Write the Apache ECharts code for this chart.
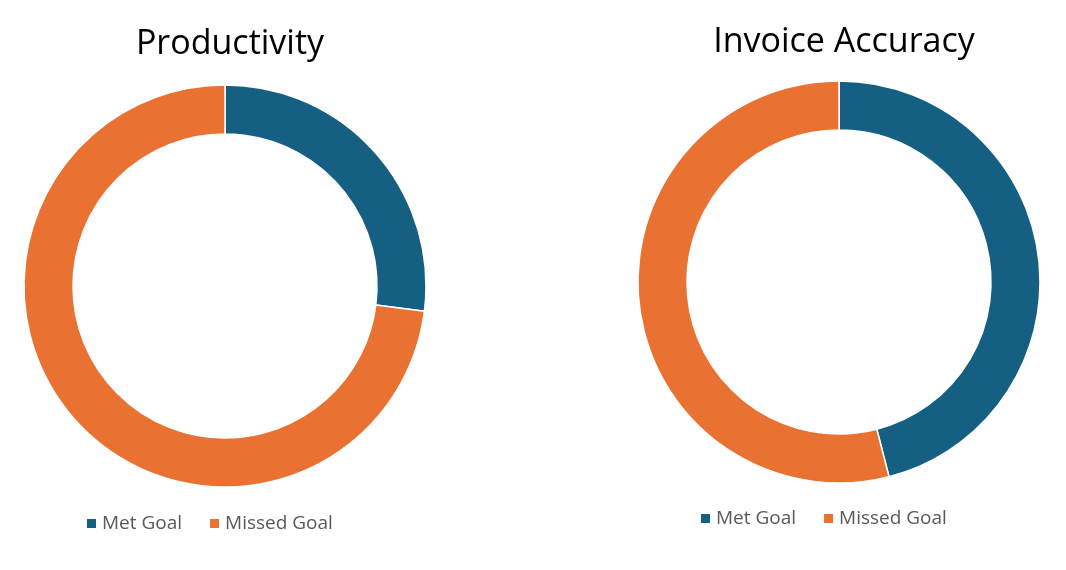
<!DOCTYPE html>
<html><head><meta charset="utf-8">
<script src="https://cdn.jsdelivr.net/npm/echarts@6/dist/echarts.min.js"></script>
<style>html,body{margin:0;background:#fff}#c{width:1066px;height:570px}</style>
</head><body><div id="c"></div>
<script>
const categories = ['Met Goal', 'Missed Goal'];
const titles = ['Productivity', 'Invoice Accuracy'];
const productivity = [27, 73];
const invoiceAccuracy = [46, 54];
const colors = ['#156082', '#E97132'];

const chart = echarts.init(document.getElementById('c'));
const font = "Aptos, 'Open Sans', 'Noto Sans', sans-serif";
function pie(values, cx, cy) {
  return {
    type: 'pie', center: [cx, cy], radius: [152, 201], startAngle: 90, clockwise: true,
    label: {show: false}, labelLine: {show: false}, silent: true,
    itemStyle: {borderColor: '#fff', borderWidth: 1.5},
    data: categories.map((n, i) => ({name: n, value: values[i], itemStyle: {color: colors[i]}}))
  };
}
chart.setOption({
  animation: false,
  color: colors,
  title: [
    {text: titles[0], left: 225, top: 22, textAlign: 'center', textStyle: {fontFamily: font, fontSize: 34, fontWeight: 'normal', color: '#000'}},
    {text: titles[1], left: 839, top: 20, textAlign: 'center', textStyle: {fontFamily: font, fontSize: 34, fontWeight: 'normal', color: '#000'}}
  ],
  legend: [
    {data: categories, left: 80, top: 509, itemWidth: 11, itemHeight: 11, itemGap: 26, icon: 'rect', textStyle: {fontFamily: font, fontSize: 19, color: '#595959'}},
    {data: categories, left: 694, top: 504, itemWidth: 11, itemHeight: 11, itemGap: 26, icon: 'rect', textStyle: {fontFamily: font, fontSize: 19, color: '#595959'}}
  ],
  series: [pie(productivity, 225, 286), pie(invoiceAccuracy, 839, 282)]
});
</script></body></html>
